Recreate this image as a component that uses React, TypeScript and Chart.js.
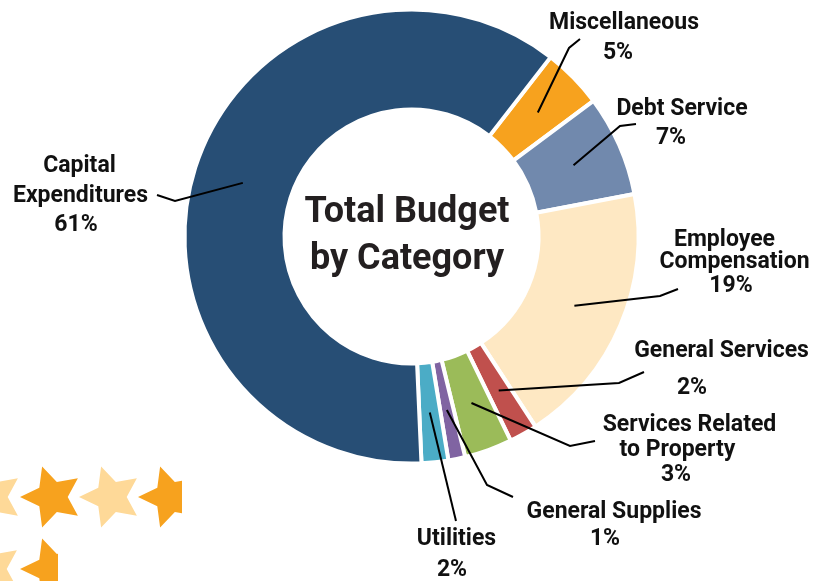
import React, { useEffect, useRef } from 'react';
import { Chart, registerables } from 'chart.js';

Chart.register(...registerables);

// ---------- data ----------
const labelLines: string[][] = [
  ['Miscellaneous'],
  ['Debt Service'],
  ['Employee', 'Compensation'],
  ['General Services'],
  ['Services Related', 'to Property'],
  ['General Supplies'],
  ['Utilities'],
  ['Capital', 'Expenditures'],
];
const categories = labelLines.map((l) => l.join(' '));
const shares = [4.3, 7.2, 18.8, 2.0, 3.4, 1.2, 1.9, 61.2];
const percentLabels = ['5%', '7%', '19%', '2%', '3%', '1%', '2%', '61%'];
const sliceColors = ['#f7a21e', '#7189ad', '#fee8c3', '#c0504d', '#9bbb59', '#8064a2', '#4bacc6', '#274e75'];
const titleLines = ['Total Budget', 'by Category'];

// ---------- layout (label placement, leader elbows) ----------
const labelPos: number[][][] = [
  [[624, 21], [618, 51]],
  [[682, 107], [671, 136]],
  [[724.5, 238], [734.5, 260], [731, 284]],
  [[721.5, 349], [692, 385.5]],
  [[689.5, 423], [677.5, 448], [676, 472.5]],
  [[614, 510], [605, 536.5]],
  [[456.5, 537], [452, 568]],
  [[79.5, 163.5], [80.5, 193.5], [76, 222.5]],
];
const leaderPaths: number[][][] = [
  [[569, 48], [580, 39]],
  [[620, 126], [636, 124]],
  [[660, 296], [678, 289]],
  [[619, 383], [644, 372]],
  [[570, 446], [595, 441]],
  [[487, 485], [513, 497]],
  [[456, 521]],
  [[175, 201], [157, 195]],
];
const starDecor = [
  { x: -8, y: 497, c: '#fed998', clip: 9999 },
  { x: 52, y: 497, c: '#f7a21e', clip: 9999 },
  { x: 111, y: 497, c: '#fed998', clip: 9999 },
  { x: 170, y: 497, c: '#f7a21e', clip: 182 },
  { x: -9, y: 569, c: '#fed998', clip: 9999 },
  { x: 52, y: 569, c: '#f7a21e', clip: 58 },
];

const LABEL_FONT = 'bold 23px Roboto';
const LABEL_CAP = 23 * 0.711;
const TITLE_FONT = 'bold 36px Roboto';
const TITLE_CAP = 36 * 0.711;

function drawStar(ctx: CanvasRenderingContext2D, cx: number, cy: number, R: number, r: number) {
  ctx.beginPath();
  for (let i = 0; i < 10; i++) {
    const a = Math.PI + (i * Math.PI) / 5;
    const rad = i % 2 === 0 ? R : r;
    const px = cx + Math.cos(a) * rad;
    const py = cy + Math.sin(a) * rad;
    if (i === 0) ctx.moveTo(px, py);
    else ctx.lineTo(px, py);
  }
  ctx.closePath();
  ctx.fill();
}

const decorPlugin = {
  id: 'decor',
  beforeDraw(chart: any) {
    const ctx: CanvasRenderingContext2D = chart.ctx;
    ctx.save();
    for (const s of starDecor) {
      ctx.save();
      ctx.beginPath();
      ctx.rect(-100, 0, s.clip + 100, 700);
      ctx.clip();
      ctx.fillStyle = s.c;
      drawStar(ctx, s.x, s.y, 32, 15.7);
      ctx.restore();
    }
    ctx.restore();
  },
  afterDraw(chart: any) {
    const ctx: CanvasRenderingContext2D = chart.ctx;
    const meta = chart.getDatasetMeta(0);
    ctx.save();
    // center title
    const arc0 = meta.data[0];
    ctx.fillStyle = '#231f20';
    ctx.font = TITLE_FONT;
    ctx.textAlign = 'center';
    ctx.textBaseline = 'alphabetic';
    const tx = arc0.x - 4.5;
    const tys = [arc0.y - 27, arc0.y + 19.5];
    titleLines.forEach((t, i) => ctx.fillText(t, tx, tys[i] + TITLE_CAP / 2));

    // leader lines
    ctx.strokeStyle = '#000';
    ctx.lineWidth = 2;
    ctx.lineJoin = 'miter';
    meta.data.forEach((arc: any, i: number) => {
      const p = arc.tooltipPosition();
      ctx.beginPath();
      ctx.moveTo(p.x, p.y);
      for (const pt of leaderPaths[i]) ctx.lineTo(pt[0], pt[1]);
      ctx.stroke();
    });

    // labels
    ctx.fillStyle = '#111';
    ctx.font = LABEL_FONT;
    labelLines.forEach((lines, i) => {
      const texts = [...lines, percentLabels[i]];
      texts.forEach((t, j) => {
        const pos = labelPos[i][j];
        ctx.fillText(t, pos[0], pos[1] + LABEL_CAP / 2);
      });
    });
    ctx.restore();
  },
};

export default function App() {
  const ref = useRef<HTMLCanvasElement | null>(null);
  useEffect(() => {
    if (!ref.current) return;
    const chart = new Chart(ref.current, {
      type: 'doughnut',
      data: {
        labels: categories,
        datasets: [
          {
            data: shares,
            backgroundColor: sliceColors,
            borderColor: '#ffffff',
            borderWidth: 4,
            hoverOffset: 0,
          },
        ],
      },
      options: {
        responsive: false,
        animation: false,
        rotation: 37.8,
        radius: 227,
        cutout: '55.95%',
        layout: { padding: { left: 0, right: 6, top: 0, bottom: 108 } },
        plugins: {
          legend: { display: false },
          tooltip: { enabled: false },
        },
        events: [],
      },
      plugins: [decorPlugin],
    });
    return () => chart.destroy();
  }, []);
  return (
    <div style={{ position: 'absolute', left: 0, top: 0, width: 829, height: 581, background: '#fff' }}>
      <canvas ref={ref} width={829} height={581} style={{ width: 829, height: 581, display: 'block' }} />
    </div>
  );
}
